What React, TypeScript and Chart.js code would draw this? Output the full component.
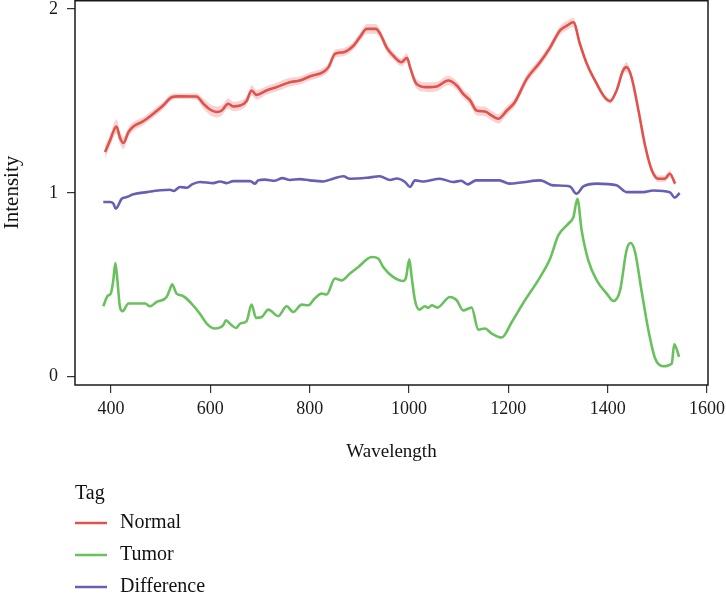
import React, { useEffect, useRef } from 'react';
import { Chart, registerables } from 'chart.js';

Chart.register(...registerables);

const xTicks = [400, 600, 800, 1000, 1200, 1400, 1600];
const yTicks = [0, 1, 2];
const legendTitle = 'Tag';
const seriesNames = ['Normal', 'Tumor', 'Difference'];
const xTitle = 'Wavelength';
const yTitle = 'Intensity';

const normalX = [388, 398, 411, 418, 425, 435, 445, 465, 485, 505, 522, 535, 572, 586, 600, 613, 623, 636, 646, 660, 673, 683, 693, 713, 733, 760, 780, 800, 827, 838, 851, 868, 888, 901, 915, 933, 942, 955, 968, 985, 996, 1002, 1015, 1035, 1056, 1079, 1096, 1109, 1123, 1136, 1153, 1166, 1180, 1197, 1213, 1237, 1264, 1284, 1304, 1318, 1331, 1344, 1358, 1378, 1394, 1405, 1418, 1431, 1438, 1448, 1462, 1476, 1489, 1502, 1515, 1525, 1536];
const normalY = [1.222, 1.285, 1.361, 1.3, 1.271, 1.33, 1.361, 1.39, 1.43, 1.475, 1.52, 1.525, 1.524, 1.485, 1.452, 1.44, 1.448, 1.485, 1.47, 1.475, 1.5, 1.557, 1.533, 1.557, 1.575, 1.602, 1.611, 1.633, 1.657, 1.684, 1.756, 1.765, 1.8, 1.847, 1.892, 1.892, 1.865, 1.79, 1.747, 1.711, 1.735, 1.684, 1.593, 1.575, 1.579, 1.611, 1.584, 1.539, 1.503, 1.448, 1.443, 1.421, 1.403, 1.448, 1.493, 1.62, 1.711, 1.79, 1.883, 1.91, 1.928, 1.811, 1.702, 1.593, 1.52, 1.499, 1.557, 1.666, 1.684, 1.63, 1.448, 1.249, 1.122, 1.077, 1.077, 1.104, 1.05];
const normalSd = [0.035, 0.032, 0.04, 0.035, 0.032, 0.026, 0.024, 0.022, 0.022, 0.02, 0.018, 0.015, 0.018, 0.028, 0.03, 0.03, 0.028, 0.028, 0.026, 0.026, 0.024, 0.028, 0.026, 0.024, 0.024, 0.024, 0.022, 0.022, 0.022, 0.022, 0.022, 0.022, 0.022, 0.024, 0.026, 0.026, 0.024, 0.024, 0.022, 0.022, 0.024, 0.022, 0.026, 0.026, 0.026, 0.026, 0.024, 0.024, 0.026, 0.026, 0.026, 0.026, 0.026, 0.024, 0.024, 0.024, 0.022, 0.022, 0.024, 0.026, 0.024, 0.014, 0.014, 0.014, 0.014, 0.014, 0.014, 0.018, 0.026, 0.018, 0.014, 0.012, 0.014, 0.018, 0.018, 0.018, 0.014];

const tumorX = [384.5, 392.6, 400, 404.6, 408.7, 412.7, 418, 423.4, 435, 469, 478.5, 492, 512, 519, 523, 532, 545, 562, 579, 592.7, 609, 626, 631.5, 640, 651.7, 660, 673, 683, 692, 703.6, 716.7, 736.8, 753.6, 767, 784, 797.6, 810, 824, 834, 851, 864.5, 881, 898, 925, 938.5, 948, 968.5, 988.6, 994, 1000.6, 1005, 1012, 1020.7, 1032, 1039, 1045.7, 1057, 1082.5, 1096, 1109, 1126, 1139.5, 1153, 1166.5, 1186.6, 1207, 1230, 1264, 1284, 1300.6, 1321, 1331, 1339, 1347.6, 1361, 1378, 1398, 1411.6, 1425, 1438, 1446, 1455, 1468, 1482, 1495.6, 1512, 1529, 1534, 1539, 1543.6];
const tumorY = [0.383, 0.4375, 0.456, 0.524, 0.618, 0.53, 0.379, 0.356, 0.398, 0.398, 0.383, 0.407, 0.434, 0.479, 0.503, 0.452, 0.439, 0.398, 0.343, 0.289, 0.262, 0.28, 0.307, 0.287, 0.265, 0.289, 0.303, 0.392, 0.32, 0.325, 0.365, 0.33, 0.383, 0.352, 0.392, 0.389, 0.425, 0.452, 0.447, 0.534, 0.524, 0.561, 0.597, 0.651, 0.642, 0.597, 0.542, 0.521, 0.54, 0.638, 0.55, 0.416, 0.365, 0.383, 0.375, 0.389, 0.376, 0.434, 0.416, 0.361, 0.376, 0.256, 0.262, 0.235, 0.213, 0.298, 0.401, 0.542, 0.642, 0.769, 0.833, 0.868, 0.968, 0.796, 0.633, 0.524, 0.452, 0.412, 0.47, 0.688, 0.727, 0.68, 0.47, 0.253, 0.099, 0.057, 0.072, 0.177, 0.15, 0.108];

const diffX = [384.5, 398, 405, 409.5, 421.6, 431.6, 445, 472, 499, 519, 526, 539, 553, 563, 579, 606, 619.5, 633, 646, 680, 690, 696, 710, 730, 745, 760, 780, 800, 827, 847, 868, 881, 915, 941, 962, 975, 992, 1002, 1012, 1030, 1062, 1089, 1105, 1118, 1135, 1182, 1202, 1230, 1264, 1290, 1324, 1337, 1351, 1378, 1418, 1438, 1472, 1492, 1525, 1535, 1545];
const diffY = [0.95, 0.95, 0.941, 0.914, 0.968, 0.977, 0.992, 1.004, 1.014, 1.017, 1.01, 1.032, 1.028, 1.046, 1.059, 1.053, 1.062, 1.053, 1.064, 1.064, 1.05, 1.068, 1.072, 1.066, 1.08, 1.07, 1.075, 1.068, 1.062, 1.077, 1.09, 1.077, 1.082, 1.09, 1.07, 1.078, 1.059, 1.032, 1.068, 1.062, 1.077, 1.059, 1.066, 1.046, 1.068, 1.068, 1.05, 1.058, 1.068, 1.041, 1.035, 0.995, 1.035, 1.05, 1.041, 1.004, 1.004, 1.013, 1.004, 0.974, 0.999];

const COLORS = ['#E0524B', '#69C15E', '#6560B5'];
const RIBBON = 'rgba(236,140,140,0.38)';
const FONT = '"Liberation Serif", "DejaVu Serif", serif';

function pts(xs: number[], ys: number[]) {
  return xs.map((x, i) => ({ x, y: ys[i] }));
}

export default function App() {
  const ref = useRef<HTMLCanvasElement>(null);

  useEffect(() => {
    if (!ref.current) return;

    const borderPlugin = {
      id: 'panelBorder',
      afterDatasetsDraw(chart: any) {
        const { ctx, chartArea: a } = chart;
        ctx.save();
        ctx.strokeStyle = '#1a1a1a';
        ctx.lineWidth = 1.5;
        ctx.strokeRect(a.left, a.top + 0.75, a.right - a.left, a.bottom - a.top - 0.75);
        ctx.restore();
      },
    };

    const legendPlugin = {
      id: 'tagLegend',
      afterDraw(chart: any) {
        const { ctx } = chart;
        ctx.save();
        ctx.font = `20px ${FONT}`;
        ctx.fillStyle = '#111';
        ctx.textBaseline = 'middle';
        ctx.textAlign = 'left';
        ctx.fillText(legendTitle, 75, 494);
        const rows = [523, 555, 587];
        const ds = chart.data.datasets.filter((d: any) => seriesNames.includes(d.label));
        ds.forEach((d: any, i: number) => {
          const y = rows[i];
          ctx.strokeStyle = d.borderColor;
          ctx.lineWidth = 2.5;
          ctx.beginPath();
          ctx.moveTo(75, y);
          ctx.lineTo(107, y);
          ctx.stroke();
          ctx.fillStyle = '#111';
          ctx.fillText(d.label, 120, y);
        });
        ctx.restore();
      },
    };

    const lineDs = (label: string, data: any[], color: string) => ({
      label,
      data,
      borderColor: color,
      backgroundColor: color,
      borderWidth: 2.6,
      pointRadius: 0,
      fill: false,
      cubicInterpolationMode: 'monotone' as const,
    });

    const chart = new Chart(ref.current, {
      type: 'line',
      data: {
        datasets: [
          lineDs(seriesNames[0], pts(normalX, normalY), COLORS[0]),
          lineDs(seriesNames[1], pts(tumorX, tumorY), COLORS[1]),
          lineDs(seriesNames[2], pts(diffX, diffY), COLORS[2]),
          {
            label: 'normal_upper',
            data: pts(normalX, normalY.map((v, i) => v + normalSd[i])),
            borderWidth: 0,
            borderColor: 'rgba(0,0,0,0)',
            backgroundColor: RIBBON,
            pointRadius: 0,
            fill: '+1',
            cubicInterpolationMode: 'monotone',
          } as any,
          {
            label: 'normal_lower',
            data: pts(normalX, normalY.map((v, i) => v - normalSd[i])),
            borderWidth: 0,
            borderColor: 'rgba(0,0,0,0)',
            backgroundColor: RIBBON,
            pointRadius: 0,
            fill: false,
            cubicInterpolationMode: 'monotone',
          } as any,
        ],
      },
      options: {
        responsive: false,
        animation: false,
        events: [],
        layout: { padding: { left: 0, top: 0, right: 18, bottom: 129 } },
        plugins: {
          legend: { display: false },
          tooltip: { enabled: false },
        },
        scales: {
          x: {
            type: 'linear',
            min: 327.5,
            max: 1602,
            afterBuildTicks: (s: any) => {
              s.ticks = xTicks.map((v) => ({ value: v }));
            },
            afterFit: (s: any) => {
              s.height = 80;
              s.paddingLeft = 0;
              s.paddingRight = 0;
            },
            ticks: {
              font: { family: FONT, size: 18 },
              color: '#1a1a1a',
              padding: 5,
              maxRotation: 0,
              autoSkip: false,
              callback: (v: any) => String(v),
            },
            grid: { drawOnChartArea: false, drawTicks: true, tickLength: 8, color: '#333', lineWidth: 1.2 },
            border: { display: false },
            title: { display: true, text: xTitle, font: { family: FONT, size: 19 }, color: '#111', padding: { top: 0, bottom: 2 } },
          },
          y: {
            type: 'linear',
            min: -0.045,
            max: 2.049,
            afterBuildTicks: (s: any) => {
              s.ticks = yTicks.map((v) => ({ value: v }));
            },
            afterFit: (s: any) => {
              s.width = 75;
              s.paddingTop = 0;
              s.paddingBottom = 0;
            },
            ticks: {
              font: { family: FONT, size: 18 },
              color: '#1a1a1a',
              padding: 9,
              autoSkip: false,
              callback: (v: any) => String(v),
            },
            grid: { drawOnChartArea: false, drawTicks: true, tickLength: 8, color: '#333', lineWidth: 1.2 },
            border: { display: false },
            title: { display: true, text: yTitle, font: { family: FONT, size: 21 }, color: '#111', padding: { top: 0, bottom: 0 } },
          },
        },
      },
      plugins: [borderPlugin, legendPlugin],
    });

    return () => chart.destroy();
  }, []);

  return (
    <div style={{ position: 'fixed', left: 0, top: 0, width: 726, height: 594, background: '#fff' }}>
      <canvas ref={ref} width={726} height={594} style={{ display: 'block', width: 726, height: 594 }} />
    </div>
  );
}
